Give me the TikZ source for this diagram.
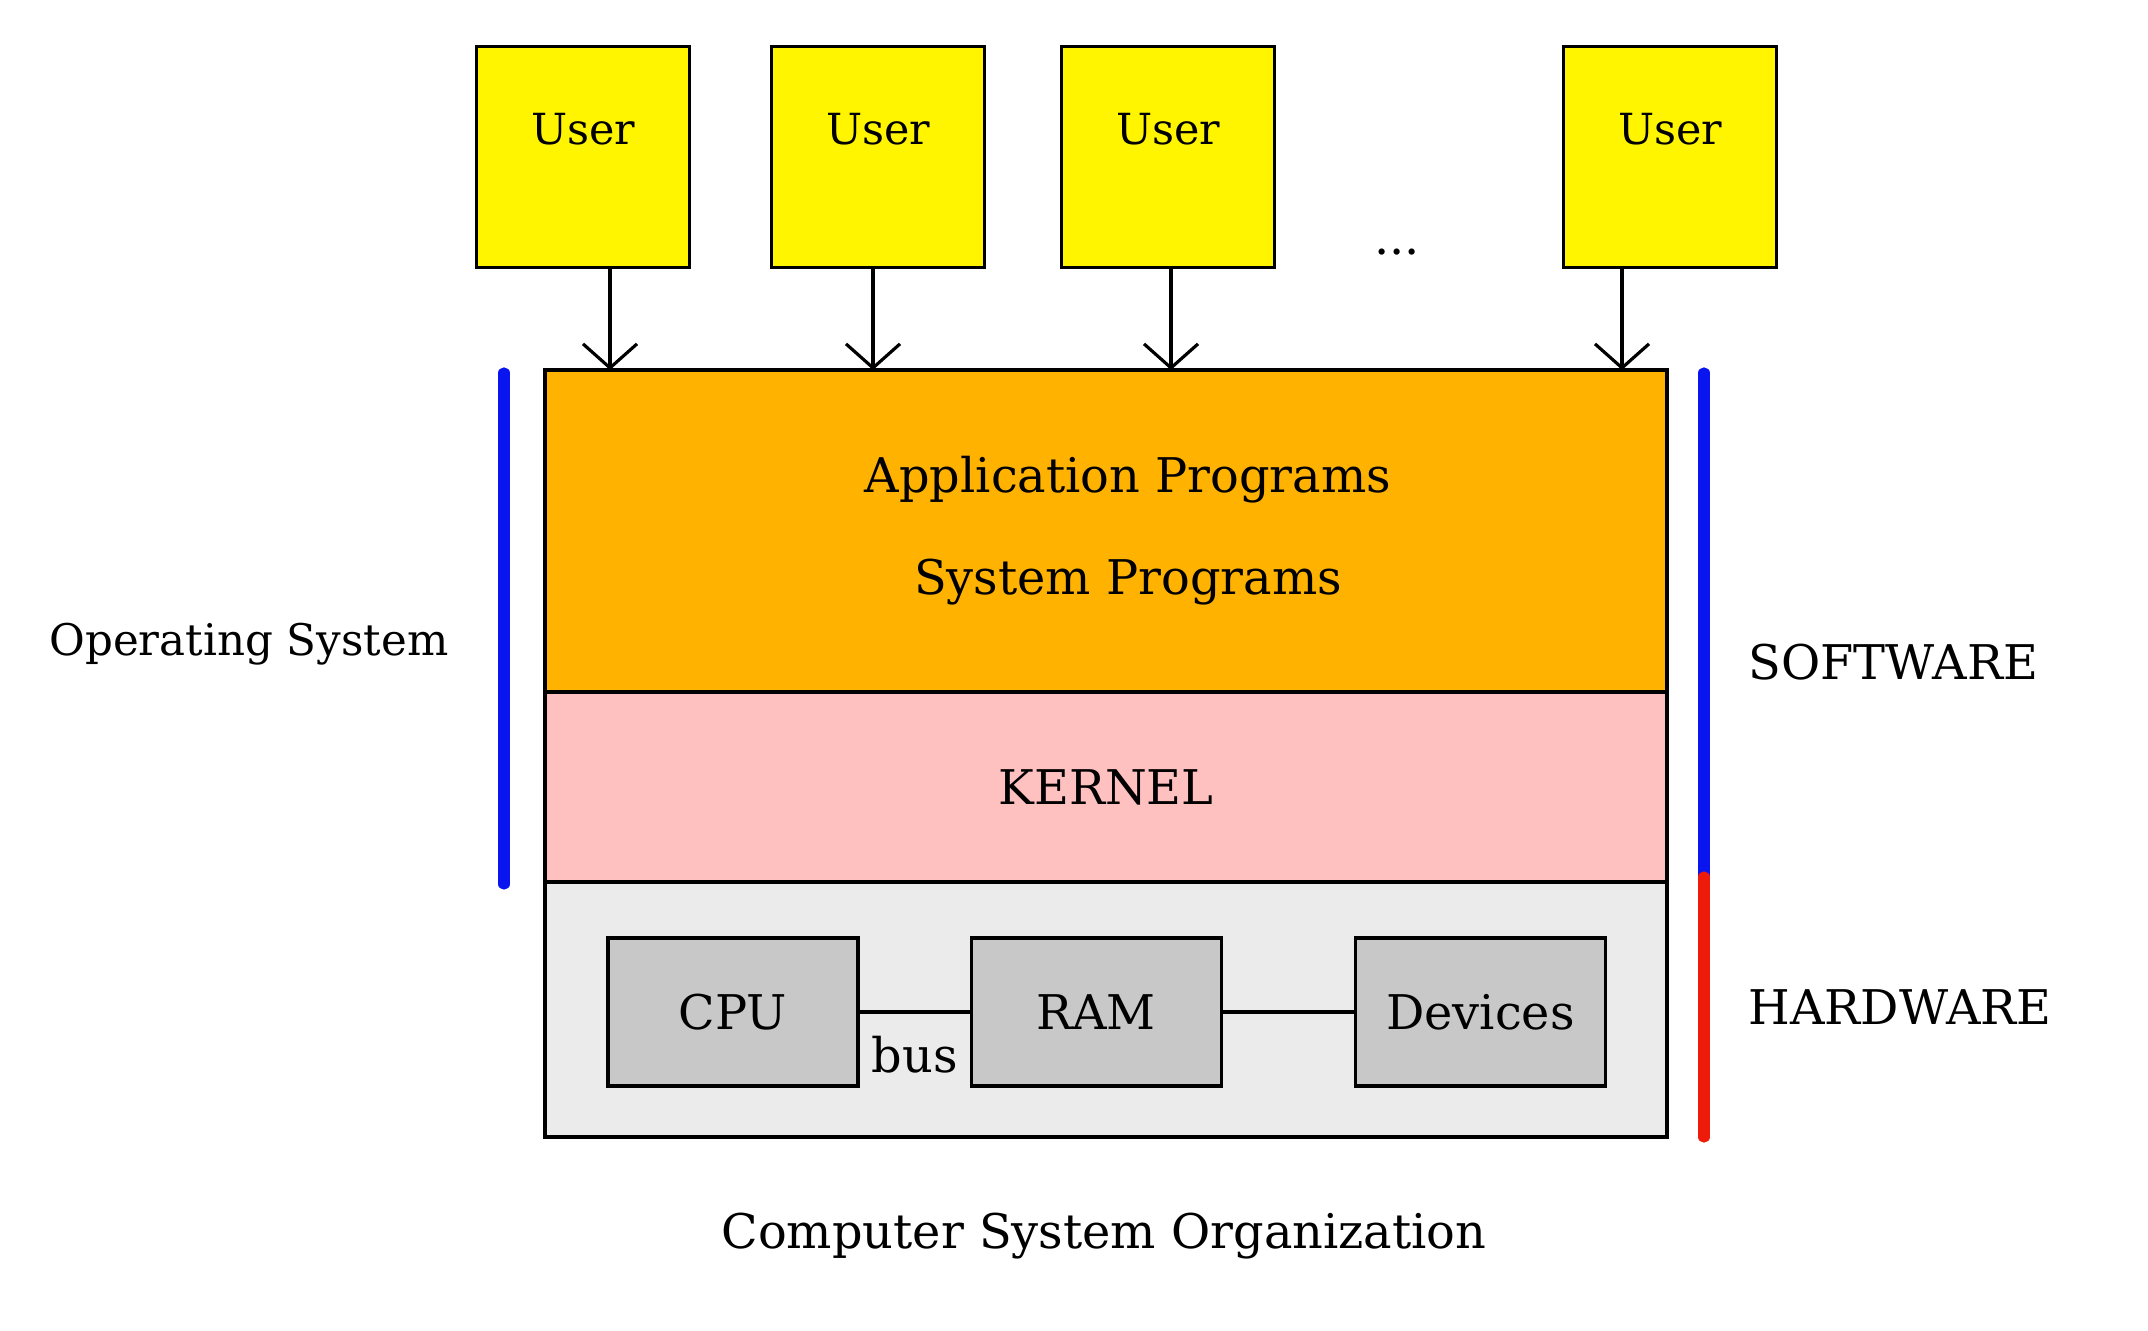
\documentclass[tikz,border=0pt]{standalone}
\usepackage{fontspec}
\setmainfont{DejaVu Serif}
\usetikzlibrary{arrows.meta,positioning}
\definecolor{useryellow}{HTML}{FFF500}
\definecolor{apporange}{HTML}{FFB200}
\definecolor{kernelpink}{HTML}{FFC0C0}
\definecolor{hwlight}{HTML}{EBEBEB}
\definecolor{hwgrey}{HTML}{C8C8C8}
\definecolor{swblue}{HTML}{0A14EE}
\definecolor{hwred}{HTML}{EE1A0A}
\tikzset{
  userbox/.style = {draw, line width=0.9pt, fill=useryellow, anchor=north west,
                    font=\fontsize{12.2}{14}\selectfont,
                    minimum width=2.13cm, inner sep=0pt, text height=0.98cm, text depth=1.23cm},
  layer/.style = {draw, line width=0.9pt, minimum width=11.22cm, inner sep=0pt, outer sep=0pt},
  hwbox/.style = {draw, line width=0.9pt, fill=hwgrey, minimum width=2.5cm, minimum height=1.48cm},
  callarrow/.style = {line width=0.9pt, -{Straight Barb[length=0.24cm, width=0.54cm]}},
  bar/.style = {line width=3.2pt, line cap=round}
}
\begin{document}
\begin{tikzpicture}[font = \fontsize{13.6}{16}\selectfont]
    \useasboundingbox (0,0) rectangle (21.48,-13.30);
    % users
    \node[userbox] (user1) at (4.75,-0.45) {User};
    \node[userbox] (user2) at (7.70,-0.45) {User};
    \node[userbox] (user3) at (10.60,-0.45) {User};
    \node[userbox] (user4) at (15.62,-0.45) {User};
    \node (dots) at (13.97,-2.52) {...};
    % layers
    \node[layer, fill = apporange, minimum height = 3.22cm] (app) at (11.06,-5.31) {};
    \node[align = center, font = \fontsize{13.6}{29}\selectfont, xshift = 0.22cm] (apptext) at (app.center)
          {Application Programs\\System Programs};
    \node[layer, fill = kernelpink, minimum height = 1.90cm, below = 0pt of app] (kernel) {KERNEL};
    \node[layer, fill = hwlight, minimum height = 2.55cm, below = 0pt of kernel] (hw) {};
    % hardware
    \node[hwbox] (cpu) at (7.33,-10.12) {CPU};
    \node[hwbox, right = 1.10cm of cpu] (ram) {RAM};
    \node[hwbox, right = 1.31cm of ram] (dev) {Devices};
    \draw[line width = 0.9pt] (cpu) -- node[midway, below = 3pt] (bus) {bus} (ram);
    \draw[line width = 0.9pt] (ram) -- (dev);
    % calls
    \coordinate (c1) at (6.10,0);
    \coordinate (c2) at (8.73,0);
    \coordinate (c3) at (11.71,0);
    \coordinate (c4) at (16.22,0);
    \foreach \u in {1,...,4}
        \draw[callarrow] (user\u.south -| c\u) -- (app.north -| c\u);
    % bars
    \draw[bar, swblue] (5.04,-3.73) -- (5.04,-8.84);
    \draw[bar, swblue] (17.04,-3.73) -- (17.04,-8.77);
    \draw[bar, hwred] (17.04,-8.77) -- (17.04,-11.37);
    \node[font = \fontsize{12.4}{14}\selectfont] (oslabel) at (2.49,-6.44) {Operating System};
    \node[anchor = west, inner sep = 0pt] (swlabel) at (17.48,-6.62) {SOFTWARE};
    \node[anchor = west, inner sep = 0pt] (hwlabel) at (17.48,-10.07) {HARDWARE};
    \node (caption) at (11.04,-12.36) {Computer System Organization};
\end{tikzpicture}
\end{document}
